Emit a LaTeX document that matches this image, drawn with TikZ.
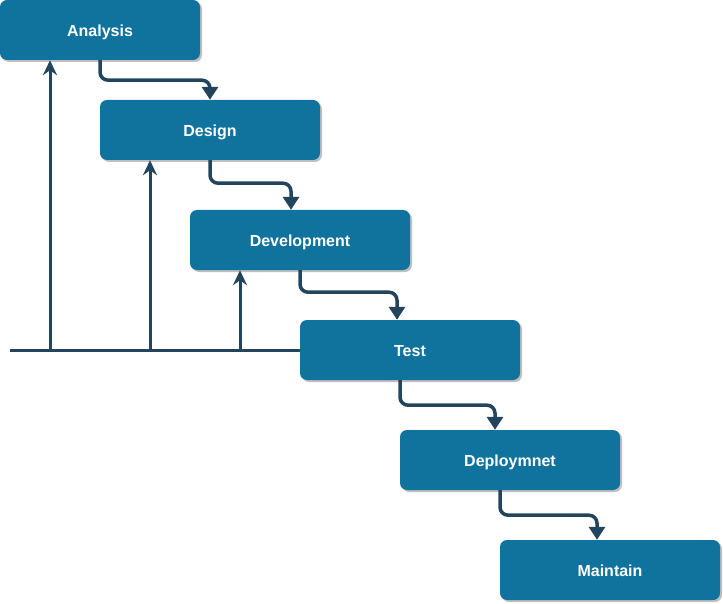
\documentclass[tikz,border=0pt]{standalone}
\usepackage{fontspec}
\setmainfont{Liberation Sans}
\usetikzlibrary{arrows.meta,shadows,calc}
\definecolor{boxblue}{HTML}{10739E}
\definecolor{linenavy}{HTML}{23445D}
\begin{document}
\begin{tikzpicture}[x=1pt,y=-1pt,
 phase/.style={draw=none, fill=boxblue, rounded corners=7pt, minimum width=220pt, minimum height=60pt, inner sep=0pt, text height=13.5pt, text depth=0pt, text=white, font=\bfseries\fontsize{16}{18}\selectfont, drop shadow={shadow xshift=2pt, shadow yshift=-2pt, opacity=0.25, fill=black}},
 flow/.style={draw=linenavy, line width=3.5pt, rounded corners=8pt, -{Triangle[length=13pt,width=16pt]}},
 back/.style={draw=linenavy, line width=3pt, -{Stealth[length=15pt,width=14pt,inset=5pt]}},
 base/.style={draw=linenavy, line width=3pt},
]
\useasboundingbox (0,0) rectangle (723,604);
\node[phase, minimum width=200pt] (A) at (100,30) {Analysis};
\node[phase] (D) at (210,130) {Design};
\node[phase] (V) at (300,240) {Development};
\node[phase] (T) at (410,350) {Test};
\node[phase] (P) at (510,460) {Deploymnet};
\node[phase] (M) at (610,570) {Maintain};

\draw[flow] (A.south) -- ++(0,20) -| (D.north);
\draw[flow] (D.south) -- ++(0,23) -| ($(V.north)+(-9,0)$);
\draw[flow] (V.south) -- ++(0,22) -| ($(T.north)+(-13,0)$);
\draw[flow] ($(T.south)+(-10,0)$) -- ++(0,25) -| ($(P.north)+(-15,0)$);
\draw[flow] ($(P.south)+(-10,0)$) -- ++(0,25) -| ($(M.north)+(-13,0)$);

\coordinate (b0) at (10,350);
\coordinate (b1) at (50,350);
\coordinate (b2) at (150,350);
\coordinate (b3) at (240,350);
\draw[base] (b0) -- (b0 -| T.west);
\draw[back] (b1) -- (b1 |- A.south);
\draw[back] (b2) -- (b2 |- D.south);
\draw[back] (b3) -- (b3 |- V.south);
\end{tikzpicture}
\end{document}
